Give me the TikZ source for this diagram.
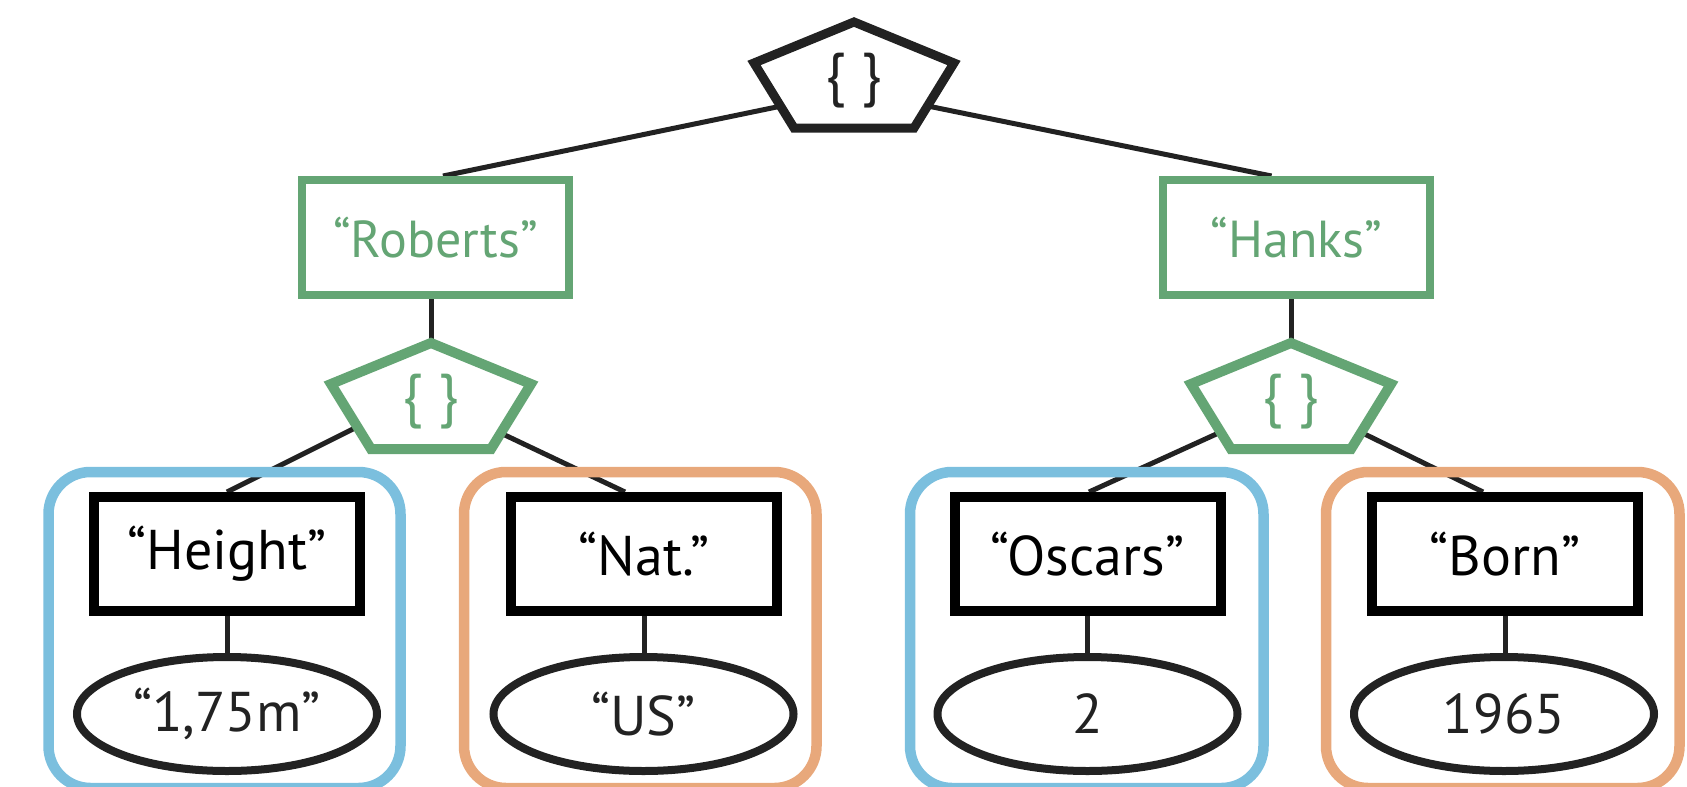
\documentclass[tikz,border=0pt]{standalone}
\usepackage{fontspec}
\setmainfont{PT Sans}
\usetikzlibrary{shapes.geometric,calc}

\definecolor{leafgreen}{HTML}{64A574}
\definecolor{groupblue}{HTML}{7BBFDE}
\definecolor{grouporange}{HTML}{E8A87B}
\definecolor{ink}{HTML}{222222}

\pgfdeclarelayer{bg}
\pgfsetlayers{bg,main}

% flattened pentagon, apex at #1
\newcommand\objshape[3]{%
  \draw[#2, line width=#3, fill=white, line join=miter]
    (#1) -- ++(100,41) -- ++(-40,65) -- ++(-120,0) -- ++(-40,-65) -- cycle;}

\tikzset{
  bigtext/.style={font=\fontsize{56}{62}\selectfont},
  midtext/.style={font=\fontsize{52}{58}\selectfont},
  keybox/.style={draw=black, line width=10pt, fill=white, inner sep=0pt,
    minimum width=266pt, minimum height=114pt, bigtext, text=black},
  namebox/.style={draw=leafgreen, line width=8pt, fill=white, inner sep=0pt,
    minimum width=267pt, minimum height=115pt, midtext, text=leafgreen},
  valbox/.style={ellipse, draw=ink, line width=8pt, fill=white, inner sep=0pt,
    minimum width=300pt, minimum height=114pt, bigtext, text=ink},
  groupbox/.style={draw=#1, line width=10.5pt, rounded corners=42pt,
    minimum height=316pt, inner sep=0pt},
  brace/.style={font=\fontsize{59}{64}\selectfont, inner sep=0pt},
  link/.style={draw=ink, line width=5pt},
}

\begin{document}
\begin{tikzpicture}[x=1pt, y=-1pt]
\useasboundingbox (0,0) rectangle (1687,787);
\clip (0,0) rectangle (1687,787);

% groups of key/value pairs
\node[groupbox=groupblue,   minimum width=352pt]   (g1) at (224.5,630) {};
\node[groupbox=grouporange, minimum width=352.5pt] (g2) at (640.25,630) {};
\node[groupbox=groupblue,   minimum width=353.5pt] (g3) at (1086.75,630) {};
\node[groupbox=grouporange, minimum width=353.5pt] (g4) at (1502.75,630) {};

% object shapes
\objshape{854,22}{ink}{9pt}
\node[brace, text=ink] (tp) at (854,81) {\{ \}};
\objshape{431,343}{leafgreen}{10pt}
\node[brace, text=leafgreen] (lp) at (431,402) {\{ \}};
\objshape{1291,343}{leafgreen}{10pt}
\node[brace, text=leafgreen] (rp) at (1291,402) {\{ \}};

% names
\node[namebox] (roberts) at (435.5,237.5) {“Roberts”};
\node[namebox] (hanks)   at (1296.5,237.5) {“Hanks”};

% keys
\node[keybox] (height) at (227,554)    {“Height”};
\node[keybox] (nat)    at (644,554)    {“Nat.”};
\node[keybox] (oscars) at (1087.5,554) {“Oscars”};
\node[keybox] (born)   at (1505,554)   {“Born”};

% values
\node[valbox] (v1) at (227,714)    {“1,75m”};
\node[valbox] (v2) at (643.5,714)  {“US”};
\node[valbox] (v3) at (1087.5,714) {2};
\node[valbox] (v4) at (1504,714)   {1965};

% connectors
\begin{pgfonlayer}{bg}
  \path[link] ($(tp)+(0,10)$) -- ($(roberts.north)+(7.5,0)$);
  \path[link] ($(tp)+(0,10)$) -- ($(hanks.north)+(-25,0)$);
  \path[link] (lp |- roberts.south) -- (lp);
  \path[link] (rp |- hanks.south) -- (rp);
  \path[link] ($(lp)+(0,-12)$) -- (height.north);
  \path[link] ($(lp)+(0,-2)$) -- ($(nat.north)+(-19,0)$);
  \path[link] ($(rp)+(0,-2)$) -- ($(oscars.north)+(1.5,0)$);
  \path[link] ($(rp)+(0,-4)$) -- ($(born.north)+(-22,0)$);
  \path[link] (height.south) -- (height.south |- v1.north);
  \path[link] (nat.south) -- (nat.south |- v2.north);
  \path[link] (oscars.south) -- (oscars.south |- v3.north);
  \path[link] (born.south) -- (born.south |- v4.north);
\end{pgfonlayer}
\end{tikzpicture}
\end{document}
